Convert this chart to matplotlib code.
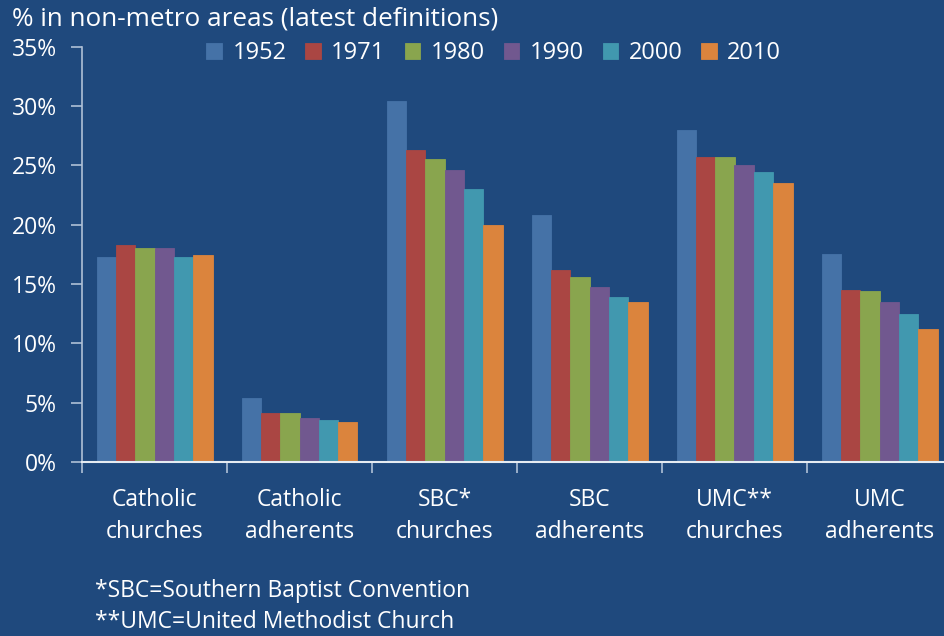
import numpy as np
import matplotlib.pyplot as plt

plt.rcParams['font.family'] = ['Open Sans', 'DejaVu Sans']

categories = ['Catholic\nchurches', 'Catholic\nadherents', 'SBC*\nchurches',
              'SBC\nadherents', 'UMC**\nchurches', 'UMC\nadherents']
years = ['1952', '1971', '1980', '1990', '2000', '2010']
# % in non-metro areas, one list per year (same order as categories)
v1952 = [17.3, 5.4, 30.4, 20.8, 28.0, 17.5]
v1971 = [18.3, 4.1, 26.3, 16.2, 25.7, 14.5]
v1980 = [18.0, 4.1, 25.5, 15.6, 25.7, 14.4]
v1990 = [18.0, 3.7, 24.6, 14.7, 25.0, 13.5]
v2000 = [17.3, 3.5, 23.0, 13.9, 24.4, 12.5]
v2010 = [17.4, 3.4, 20.0, 13.5, 23.5, 11.2]
values = [v1952, v1971, v1980, v1990, v2000, v2010]
colors = ['#4572A7', '#AA4643', '#89A54E', '#71588F', '#4198AF', '#DB843D']

bg = '#1F497D'
fig = plt.figure(figsize=(9.44, 6.36), dpi=100, facecolor=bg)
ax = fig.add_axes([82/944, 174/636, 870/944, 415.5/636], facecolor=bg)

x = np.arange(len(categories))
w = 0.8/len(years)
handles = []
for i, (yr, vals) in enumerate(zip(years, values)):
    b = ax.bar(x - 0.4 + w*(i + 0.5), vals, width=w, color=colors[i],
               edgecolor=colors[i], linewidth=0.6, label=yr, zorder=2)
    handles.append(b)

ax.set_xlim(-0.5, len(categories) - 0.5)
ax.set_ylim(0, 35)
ax.set_yticks(np.arange(0, 36, 5))
ax.set_yticklabels(['%d%%' % t for t in range(0, 36, 5)], fontsize=16.5, color='white')
ax.set_xticks(np.arange(-0.5, len(categories), 1))
ax.set_xticklabels([])
ax.set_xticks(x, minor=True)
ax.set_xticklabels(categories, minor=True, fontsize=16.5, color='white', linespacing=1.45)
ax.tick_params(axis='x', which='major', length=8, width=1.2, color='#AFC0D6', direction='out')
ax.tick_params(axis='x', which='minor', length=0, pad=19)
ax.tick_params(axis='y', length=8, width=1.2, color='#AFC0D6', pad=10)

for s in ['top', 'right']:
    ax.spines[s].set_visible(False)
ax.spines['left'].set_color('#AFC0D6')
ax.spines['left'].set_linewidth(1.2)
ax.spines['bottom'].set_color('#E6ECF2')
ax.spines['bottom'].set_linewidth(1.5)

fig.text(12/944, 1 - 19/636, '% in non-metro areas (latest definitions)', fontsize=18.8,
         color='white', ha='left', va='center')

leg = fig.legend(handles=handles, labels=years, loc='center left',
                 bbox_to_anchor=(197/944, 1 - 53/636), ncol=6, frameon=False,
                 fontsize=17, handlelength=0.65, handleheight=0.65,
                 handletextpad=0.45, columnspacing=0.8, borderaxespad=0)
for t in leg.get_texts():
    t.set_color('white')

fig.text(95/944, 1 - 591/636, '*SBC=Southern Baptist Convention', fontsize=16.5,
         color='white', ha='left', va='center')
fig.text(95/944, 1 - 622/636, '**UMC=United Methodist Church', fontsize=16.5,
         color='white', ha='left', va='center')

plt.savefig('out.png', dpi=100, facecolor=bg)
